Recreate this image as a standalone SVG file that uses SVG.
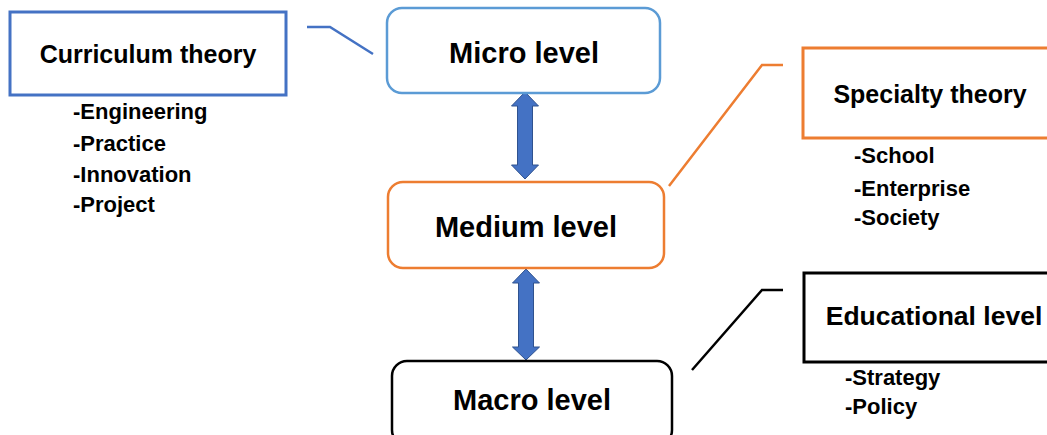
<svg xmlns="http://www.w3.org/2000/svg" width="1047" height="435" viewBox="0 0 1047 435">
<style>
text{font-family:"Liberation Sans",Arial,sans-serif;font-weight:bold;fill:#000}
.lvl{font-size:29px;text-anchor:middle}
.hd{font-size:25px;text-anchor:middle}
.li{font-size:22px}
.rbox{fill:#fff;stroke-width:2.5}
.sbox{fill:#fff;stroke-width:3}
.con{fill:none;stroke-width:2.5}
.arr{fill:#4472C4;stroke:#2F528F;stroke-width:1}
</style>
<rect width="1047" height="435" fill="#fff"/>
<g id="connectors">
<polyline class="con" stroke="#4472C4" points="307,27 330,27 373,54"/>
<polyline class="con" stroke="#ED7D31" points="669,186 762,65 783,65"/>
<polyline class="con" stroke="#000" points="692,370 762,290 783,290"/>
<polygon class="arr" points="525,92 538.5,106 532.5,106 532.5,165 538.5,165 525,179 511.5,165 517.5,165 517.5,106 511.5,106"/>
<polygon class="arr" points="526,269 539.5,283 533.5,283 533.5,347 539.5,347 526,360 512.5,347 518.5,347 518.5,283 512.5,283"/>
</g>
<g id="curriculum">
<rect class="sbox" stroke="#4472C4" x="10" y="12" width="276" height="83"/>
<text class="hd" x="148" y="63">Curriculum theory</text>
<text class="li" x="73" y="119">-Engineering</text>
<text class="li" x="73" y="151">-Practice</text>
<text class="li" x="73" y="182">-Innovation</text>
<text class="li" x="73" y="212">-Project</text>
</g>
<g id="micro">
<rect class="rbox" stroke="#5B9BD5" x="387" y="8" width="273" height="85" rx="15"/>
<text class="lvl" x="524" y="63">Micro level</text>
</g>
<g id="medium">
<rect class="rbox" stroke="#ED7D31" x="388" y="182" width="276" height="86" rx="15"/>
<text class="lvl" x="526" y="237">Medium level</text>
</g>
<g id="macro">
<rect class="rbox" stroke="#000" x="392" y="361" width="280" height="84" rx="15"/>
<text class="lvl" x="532" y="410">Macro level</text>
</g>
<g id="specialty">
<rect class="sbox" stroke="#ED7D31" x="803" y="48" width="260" height="90"/>
<text class="hd" x="930" y="103">Specialty theory</text>
<text class="li" x="854" y="163">-School</text>
<text class="li" x="854" y="196">-Enterprise</text>
<text class="li" x="854" y="225">-Society</text>
</g>
<g id="educational">
<rect class="sbox" stroke="#000" x="804" y="273" width="260" height="89"/>
<text class="hd" x="934" y="325" style="font-size:26.5px">Educational level</text>
<text class="li" x="845" y="385">-Strategy</text>
<text class="li" x="845" y="414">-Policy</text>
</g>
</svg>
